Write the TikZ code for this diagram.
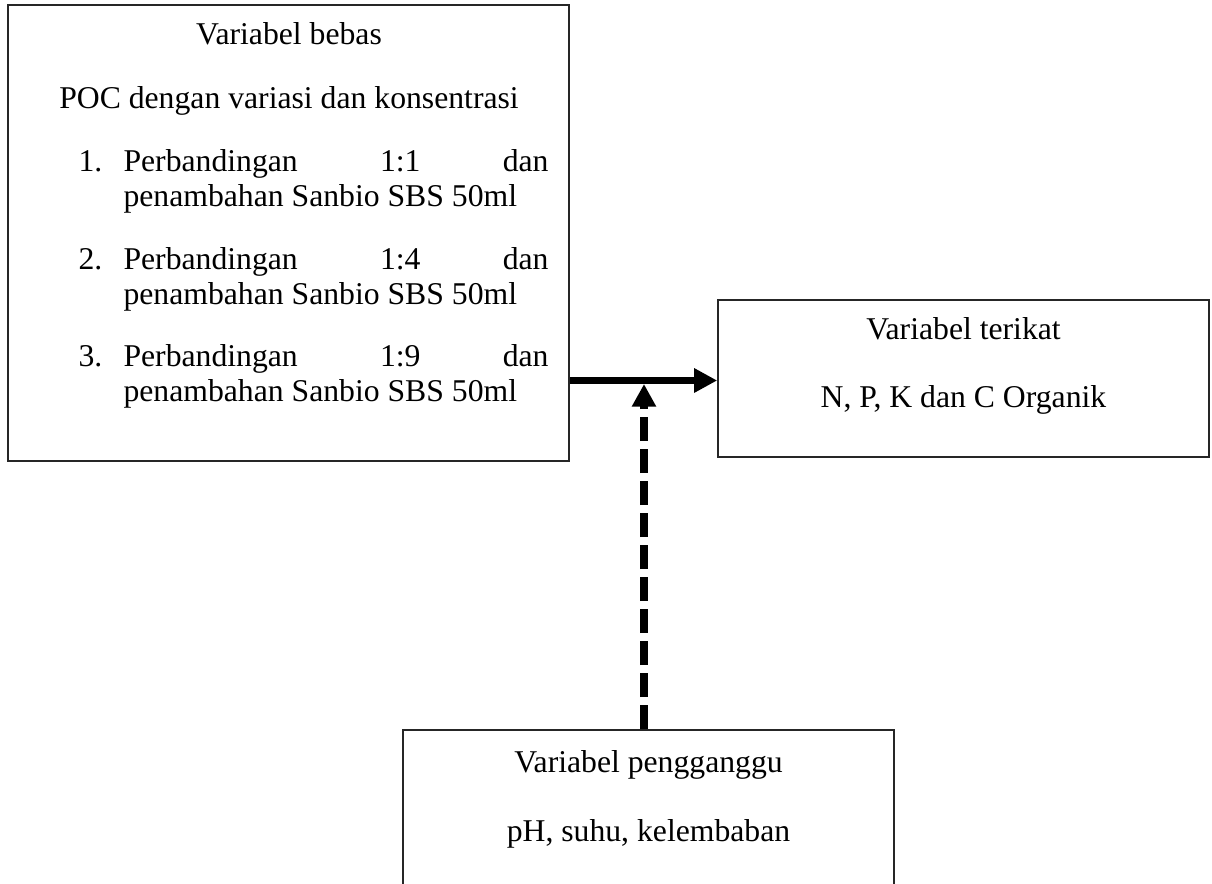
\documentclass[tikz,border=0pt]{standalone}
\usepackage{fontspec}
\setmainfont{Liberation Serif}
\usetikzlibrary{arrows.meta,fit}
\newcommand\itemtext[1]{\parbox[t]{160.9pt}{Perbandingan\hfill #1\hfill dan\\penambahan Sanbio SBS 50ml}}
\begin{document}
\begin{tikzpicture}[x=0.3786pt,y=-0.3786pt,
  box/.style={draw=black!85, line width=0.6pt, inner sep=0pt},
  txt/.style={inner sep=0pt, font=\fontsize{12pt}{13.25pt}\selectfont},
  flow/.style={line width=2.9pt, -{Triangle[length=8.7pt,width=8.7pt]}},
  influence/.style={line width=3.03pt, dash pattern=on 9.09pt off 3.03pt, -{Triangle[length=8.6pt,width=8.7pt]}}]
\useasboundingbox (0,0) rectangle (1212,884);
\clip (0,0) rectangle (1212,884);
% boxes
\node[box, fit={(8,5) (569,461)}] (bebas) {};
\node[box, fit={(718,300) (1209,457)}] (terikat) {};
\node[box, fit={(403,730) (894,910)}] (ganggu) {};
% texts of box 1
\node[txt, anchor=base] (t1) at (289,45) {Variabel bebas};
\node[txt, anchor=base] (t2) at (289,109) {POC dengan variasi dan konsentrasi};
\node[txt, anchor=base west] (n1) at (78,172) {1.};
\node[txt, anchor=base west] (i1) at (123,172) {\itemtext{1:1}};
\node[txt, anchor=base west] (n2) at (78,270) {2.};
\node[txt, anchor=base west] (i2) at (123,270) {\itemtext{1:4}};
\node[txt, anchor=base west] (n3) at (78,367) {3.};
\node[txt, anchor=base west] (i3) at (123,367) {\itemtext{1:9}};
% texts of box 2
\node[txt, anchor=base] (t3) at (963.5,340) {Variabel terikat};
\node[txt, anchor=base] (t4) at (963.5,408) {N, P, K dan C Organik};
% texts of box 3
\node[txt, anchor=base] (t5) at (648.5,772) {Variabel pengganggu};
\node[txt, anchor=base] (t6) at (648.5,841) {pH, suhu, kelembaban};
% connectors
\coordinate (hy) at (0,380.5);
\draw[flow] (bebas.east |- hy) -- (terikat.west |- hy);
\coordinate (vtip) at (644,384);
\draw[influence] (ganggu.north -| vtip) -- (vtip);
\end{tikzpicture}
\end{document}
